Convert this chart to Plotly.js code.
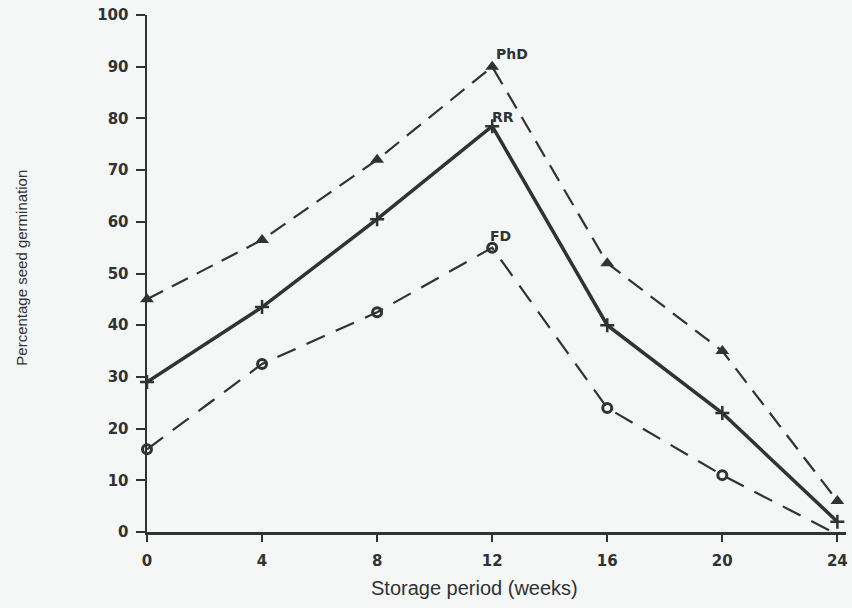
<!DOCTYPE html>
<html>
<head>
<meta charset="utf-8">
<script src="https://cdn.plot.ly/plotly-3.0.1.min.js"></script>
<style>html,body{margin:0;padding:0;background:#f5f6f6;}#chart{width:852px;height:608px;}</style>
</head>
<body>
<div id="chart"></div>
<script>
const weeks = [0, 4, 8, 12, 16, 20, 24];
const phd = [45, 56.5, 72, 90, 52, 35, 6];
const rr = [29, 43.5, 60.5, 78.5, 40, 23, 2];
const fd = [16, 32.5, 42.5, 55, 24, 11, -0.5];
const seriesNames = ['PhD', 'RR', 'FD'];
const xTicks = [0, 4, 8, 12, 16, 20, 24];
const yTicks = [0, 10, 20, 30, 40, 50, 60, 70, 80, 90, 100];
const xTitle = 'Storage period (weeks)';
const yTitle = 'Percentage seed germination';

const ink = '#2f3333';
const traces = [
  {x: weeks, y: phd, name: seriesNames[0], mode: 'lines+markers', cliponaxis: false,
   line: {color: ink, width: 2.2, dash: '18px,10px'},
   marker: {symbol: 'triangle-up', size: 12, color: ink}},
  {x: weeks, y: rr, name: seriesNames[1], mode: 'lines+markers', cliponaxis: false,
   line: {color: ink, width: 3.5},
   marker: {symbol: 'cross-thin-open', size: 10, line: {color: ink, width: 2.5}}},
  {x: weeks, y: fd, name: seriesNames[2], mode: 'lines+markers', cliponaxis: false,
   line: {color: ink, width: 2.2, dash: '20px,12px'},
   marker: {symbol: 'circle-open', size: 9, line: {color: ink, width: 3}}}
];

const peakIdx = 3;
const labelShift = [[20, 13], [11, 9], [8, 12]];
const seriesVals = [phd, rr, fd];
const annotations = seriesNames.map((n, i) => ({
  x: weeks[peakIdx], y: seriesVals[i][peakIdx], xref: 'x', yref: 'y',
  text: n, showarrow: false, xshift: labelShift[i][0], yshift: labelShift[i][1],
  font: {family: 'DejaVu Sans, Liberation Sans, sans-serif', size: 14, color: ink, weight: 'bold'}
}));
const titleFamily = 'Liberation Sans, Arial, sans-serif';
annotations.push({
  text: xTitle, xref: 'paper', yref: 'paper', x: 0.469, y: -0.108,
  xanchor: 'center', yanchor: 'middle', showarrow: false,
  font: {family: titleFamily, size: 20, color: ink}
});
annotations.push({
  text: yTitle, xref: 'paper', yref: 'paper', x: -0.179, y: 0.511, textangle: -90,
  xanchor: 'center', yanchor: 'middle', showarrow: false,
  font: {family: titleFamily, size: 15, color: ink}
});

const tickFont = {family: 'DejaVu Sans, Liberation Sans, sans-serif', size: 15, color: ink, weight: 'bold'};
const layout = {
  width: 852, height: 608,
  paper_bgcolor: '#f5f6f6', plot_bgcolor: '#f5f6f6',
  margin: {l: 147, r: 6, t: 15, b: 76},
  showlegend: false,
  annotations: annotations,
  xaxis: {
    range: [0, 24.3], tickvals: xTicks, ticktext: xTicks.map(String),
    showgrid: false, zeroline: false, showline: true, linecolor: ink, linewidth: 2.5,
    ticks: 'outside', ticklen: 7, tickwidth: 2, tickcolor: ink, tickfont: tickFont,
    ticklabelstandoff: 6
  },
  yaxis: {
    range: [0, 100], tickvals: yTicks, ticktext: yTicks.map(String),
    showgrid: false, zeroline: false, showline: true, linecolor: ink, linewidth: 2.5,
    ticks: 'outside', ticklen: 9, tickwidth: 2, tickcolor: ink, tickfont: tickFont,
    ticklabelstandoff: 4
  }
};

Plotly.newPlot('chart', traces, layout, {displayModeBar: false, staticPlot: true});
</script>
</body>
</html>
